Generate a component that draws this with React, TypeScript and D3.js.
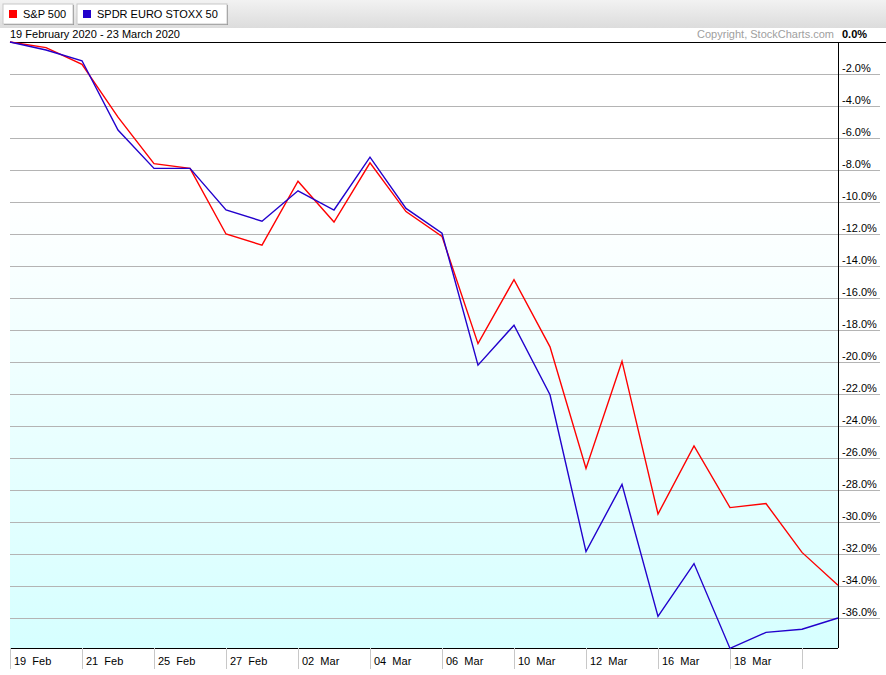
import React from "react";
import * as d3 from "d3";

const dates = [
  "2020-02-19", "2020-02-20", "2020-02-21", "2020-02-24", "2020-02-25", "2020-02-26",
  "2020-02-27", "2020-02-28", "2020-03-02", "2020-03-03", "2020-03-04", "2020-03-05",
  "2020-03-06", "2020-03-09", "2020-03-10", "2020-03-11", "2020-03-12", "2020-03-13",
  "2020-03-16", "2020-03-17", "2020-03-18", "2020-03-19", "2020-03-20", "2020-03-23",
];

const sp500 = [
  0, -0.35, -1.4, -4.7, -7.6, -7.9, -12.0, -12.7, -8.7, -11.25, -7.55, -10.6,
  -12.15, -18.85, -14.85, -19.05, -26.65, -19.95, -29.5, -25.25, -29.1, -28.85, -31.9, -33.95,
];

const stoxx = [
  0, -0.5, -1.17, -5.5, -7.9, -7.9, -10.5, -11.2, -9.3, -10.5, -7.2, -10.4,
  -11.95, -20.2, -17.7, -22.05, -31.85, -27.65, -35.9, -32.6, -37.9, -36.9, -36.7, -36.0,
];

const seriesNames = ["S&P 500", "SPDR EURO STOXX 50"];
const seriesColors = ["#ff0000", "#2200cc"];
const yTicks = d3.range(-2, -37, -2);
const dateRangeLabel = "19 February 2020 - 23 March 2020";
const copyright = "Copyright, StockCharts.com";

const W = 886;
const H = 675;
const left = 10;
const right = 838;
const top = 42;
const bottom = 648;
const font = "'Liberation Sans', Arial, sans-serif";

export default function App() {
  const x = d3.scalePoint<string>().domain(dates).range([left, right]);
  const y = d3.scaleLinear().domain([0, -37.875]).range([top, bottom]);
  const parse = d3.timeParse("%Y-%m-%d");
  const fmt = d3.timeFormat("%d  %b");
  const tickDates = dates.filter((_, i) => i % 2 === 0);

  const line = d3
    .line<number>()
    .x((_, i) => x(dates[i]) as number)
    .y((d) => y(d));

  const series = [sp500, stoxx];

  return (
    <svg
      width={W}
      height={H}
      style={{ position: "absolute", left: 0, top: 0, fontFamily: font }}
    >
      <defs>
        <linearGradient id="hdr" x1="0" y1="0" x2="0" y2="1">
          <stop offset="0%" stopColor="#f2f2f2" />
          <stop offset="100%" stopColor="#dcdcdc" />
        </linearGradient>
        <linearGradient id="bg" x1="0" y1="0" x2="0" y2="1">
          <stop offset="0%" stopColor="#ffffff" />
          <stop offset="25%" stopColor="#ffffff" />
          <stop offset="100%" stopColor="#d6ffff" />
        </linearGradient>
      </defs>
      <rect x={0} y={0} width={W} height={H} fill="#ffffff" />
      {/* header */}
      <rect x={0} y={0} width={W} height={28} fill="url(#hdr)" />
      {seriesNames.map((name, i) => {
        const bx = i === 0 ? 3 : 77;
        const bw = i === 0 ? 70 : 150;
        return (
          <g key={name}>
            <rect x={bx + 1} y={5} width={bw} height={20} fill="#888" />
            <rect x={bx} y={4} width={bw} height={20} fill="#ffffff" stroke="#c8c8c8" />
            <rect x={bx + 6} y={10} width={8} height={8} fill={seriesColors[i]} />
            <text x={bx + 20} y={18} fontSize={11} fill="#000">
              {name}
            </text>
          </g>
        );
      })}
      <text x={10} y={38} fontSize={11} fill="#000">
        {dateRangeLabel}
      </text>
      <text x={834} y={38} fontSize={11} fill="#a0a0a0" textAnchor="end">
        {copyright}
      </text>
      <text x={842} y={38} fontSize={11} fill="#000" fontWeight="bold">
        {"0.0%"}
      </text>

      {/* plot background */}
      <rect x={left} y={top} width={right - left} height={bottom - top} fill="url(#bg)" />

      {/* gridlines */}
      {yTicks.map((t) => (
        <line
          key={t}
          x1={left}
          x2={880}
          y1={Math.round(y(t)) + 0.5}
          y2={Math.round(y(t)) + 0.5}
          stroke="#b4b4b4"
          strokeWidth={1}
        />
      ))}
      {yTicks.map((t) => (
        <text key={"l" + t} x={842} y={y(t) - 2.5} fontSize={11} fill="#000">
          {t.toFixed(1) + "%"}
        </text>
      ))}

      {/* borders */}
      <line x1={left} x2={W} y1={top + 0.5} y2={top + 0.5} stroke="#000" />
      <line x1={left} x2={right} y1={bottom + 0.5} y2={bottom + 0.5} stroke="#000" />
      <line x1={right + 0.5} x2={right + 0.5} y1={top} y2={bottom} stroke="#000" />

      {/* x ticks */}
      {tickDates.map((d, i) => {
        const xp = Math.round(x(d) as number) + 0.5;
        return (
          <g key={d}>
            <line x1={xp} x2={xp} y1={bottom} y2={669} stroke="#c8c8c8" />
            {i < tickDates.length - 1 && (
              <text
                x={xp + 3.5}
                y={665}
                fontSize={11}
                fill="#000"
                style={{ whiteSpace: "pre" }}
              >
                {fmt(parse(d) as Date)}
              </text>
            )}
          </g>
        );
      })}

      {/* series */}
      {series.map((s, i) => (
        <path
          key={seriesNames[i]}
          d={line(s) as string}
          fill="none"
          stroke={seriesColors[i]}
          strokeWidth={1.4}
          strokeLinejoin="miter"
        />
      ))}
    </svg>
  );
}
